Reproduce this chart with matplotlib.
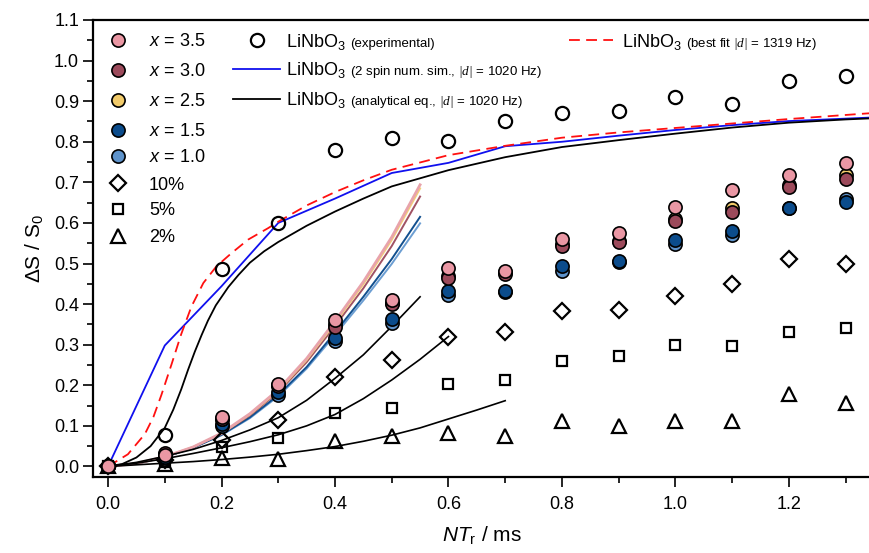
import matplotlib
matplotlib.use("Agg")
import matplotlib.pyplot as plt
from matplotlib.ticker import MultipleLocator

plt.rcParams['font.family'] = ['Liberation Sans', 'DejaVu Sans']
plt.rcParams['mathtext.fontset'] = 'custom'
plt.rcParams['mathtext.rm'] = 'Liberation Sans'
plt.rcParams['mathtext.it'] = 'Liberation Sans:italic'
plt.rcParams['mathtext.cal'] = 'Liberation Serif:italic'

# ---------------- data ----------------
NT = [0.0, 0.1, 0.2, 0.3, 0.4, 0.5, 0.6, 0.7, 0.8, 0.9, 1.0, 1.1, 1.2, 1.3]
lin_exp = [0, 0.077, 0.487, 0.599, 0.779, 0.810, 0.803, 0.850, 0.872, 0.876, 0.911, 0.893, 0.950, 0.962]
x35 = [0, 0.028, 0.122, 0.204, 0.360, 0.409, 0.490, 0.482, 0.561, 0.575, 0.640, 0.680, 0.718, 0.747]
x30 = [0, 0.032, 0.116, 0.198, 0.344, 0.400, 0.465, 0.475, 0.542, 0.552, 0.604, 0.627, 0.689, 0.709]
x25 = [0, 0.030, 0.118, 0.200, 0.350, 0.403, 0.470, 0.478, 0.548, 0.556, 0.610, 0.638, 0.694, 0.718]
x15 = [0, 0.024, 0.105, 0.183, 0.317, 0.364, 0.432, 0.432, 0.494, 0.506, 0.557, 0.580, 0.638, 0.652]
x10 = [0, 0.020, 0.100, 0.176, 0.309, 0.354, 0.422, 0.430, 0.482, 0.504, 0.549, 0.571, 0.636, 0.660]
p10 = [0, 0.015, 0.066, 0.115, 0.220, 0.263, 0.319, 0.331, 0.382, 0.386, 0.419, 0.449, 0.510, 0.500]
p5 = [0, 0.010, 0.048, 0.070, 0.131, 0.145, 0.204, 0.212, 0.261, 0.271, 0.299, 0.298, 0.332, 0.342]
p2 = [0, 0.006, 0.020, 0.019, 0.062, 0.075, 0.083, 0.075, 0.111, 0.099, 0.113, 0.111, 0.179, 0.156]

# simulated / fitted curves
sim_x = [0, 0.1, 0.2, 0.3, 0.4, 0.5, 0.6, 0.7, 0.8, 0.9, 1.0, 1.1, 1.2, 1.3, 1.4]
sim_y = [0, 0.298, 0.444, 0.600, 0.660, 0.723, 0.748, 0.789, 0.800, 0.815, 0.829, 0.841, 0.851, 0.857, 0.863]

ana_x = [0, 0.025, 0.05, 0.075, 0.1, 0.115, 0.129, 0.141, 0.153, 0.165, 0.176, 0.19, 0.212, 0.23, 0.25, 0.275,
         0.3, 0.35, 0.4, 0.45, 0.5, 0.6, 0.7, 0.8, 0.9, 1.0, 1.1, 1.2, 1.3, 1.4]
ana_y = [0, 0.006, 0.022, 0.050, 0.095, 0.140, 0.190, 0.238, 0.283, 0.324, 0.359, 0.397, 0.442, 0.472, 0.502, 0.530,
         0.553, 0.593, 0.628, 0.660, 0.690, 0.730, 0.762, 0.787, 0.804, 0.820, 0.835, 0.847, 0.855, 0.861]

fit_x = [0, 0.035, 0.065, 0.08, 0.094, 0.112, 0.129, 0.147, 0.168, 0.191, 0.218, 0.247, 0.282, 0.3,
         0.35, 0.4, 0.45, 0.5, 0.6, 0.7, 0.8, 0.9, 1.0, 1.1, 1.2, 1.3, 1.4]
fit_y = [0, 0.030, 0.080, 0.122, 0.176, 0.252, 0.326, 0.394, 0.452, 0.493, 0.526, 0.559, 0.587, 0.603,
         0.643, 0.676, 0.705, 0.731, 0.767, 0.790, 0.810, 0.823, 0.834, 0.845, 0.856, 0.866, 0.876]

fx = [0, 0.05, 0.1, 0.15, 0.2, 0.25, 0.3, 0.35, 0.4, 0.45, 0.5, 0.55]
f35 = [0, 0.007, 0.024, 0.048, 0.082, 0.130, 0.189, 0.266, 0.358, 0.455, 0.565, 0.694]
f25 = [0, 0.007, 0.024, 0.048, 0.081, 0.128, 0.186, 0.262, 0.353, 0.449, 0.558, 0.685]
f30 = [0, 0.007, 0.023, 0.047, 0.080, 0.126, 0.183, 0.257, 0.346, 0.439, 0.543, 0.665]
f15 = [0, 0.007, 0.023, 0.046, 0.078, 0.121, 0.176, 0.245, 0.330, 0.418, 0.511, 0.615]
f10 = [0, 0.007, 0.023, 0.046, 0.077, 0.119, 0.173, 0.241, 0.324, 0.409, 0.499, 0.599]
f_p10 = [0, 0.010, 0.025, 0.042, 0.064, 0.090, 0.120, 0.163, 0.217, 0.275, 0.345, 0.418]
fx5 = [0, 0.05, 0.1, 0.15, 0.2, 0.25, 0.3, 0.35, 0.4, 0.45, 0.5, 0.55, 0.6]
f_p5 = [0, 0.008, 0.019, 0.032, 0.046, 0.061, 0.078, 0.100, 0.128, 0.167, 0.213, 0.264, 0.320]
fx2 = [0, 0.05, 0.1, 0.15, 0.2, 0.25, 0.3, 0.35, 0.4, 0.45, 0.5, 0.55, 0.6, 0.65, 0.7]
f_p2 = [0, 0.004, 0.008, 0.012, 0.017, 0.023, 0.030, 0.039, 0.049, 0.062, 0.077, 0.095, 0.117, 0.139, 0.162]

c35, c30, c25, c15, c10 = '#EA97A4', '#9C4A5B', '#F2CB6A', '#0B4C8C', '#5E93CB'
l35, l30, l25, l15, l10 = '#E8A3AB', '#A05263', '#F3CF78', '#12508F', '#6C9ED2'

W, H = 870, 553
fig = plt.figure(figsize=(W / 100, H / 100), dpi=100)
ax = fig.add_axes([93 / W, 1 - 477 / H, (W - 93) / W, (477 - 20) / H])

# curves
ax.plot(sim_x, sim_y, color='#1010EE', lw=1.3, zorder=3)
ax.plot(ana_x, ana_y, color='black', lw=1.3, zorder=3)
ax.plot(fit_x, fit_y, color='#FF1010', lw=1.3, ls=(0, (6, 3.5)), zorder=3)
for yy, cc, lw in [(f10, l10, 1.4), (f15, l15, 1.4), (f30, l30, 1.4), (f25, l25, 1.4), (f35, l35, 2.0)]:
    ax.plot(fx, yy, color=cc, lw=lw, zorder=2)
ax.plot(fx, f_p10, color='black', lw=1.2, zorder=2)
ax.plot(fx5, f_p5, color='black', lw=1.2, zorder=2)
ax.plot(fx2, f_p2, color='black', lw=1.2, zorder=2)

# markers
mk = dict(ls='none', mec='black', zorder=5)
ax.plot(NT, p2, marker='^', ms=10, mew=1.6, mfc='none', **mk)
ax.plot(NT, p5, marker='s', ms=7.5, mew=1.6, mfc='none', **mk)
ax.plot(NT, p10, marker='D', ms=8.5, mew=1.6, mfc='none', **mk)
ax.plot(NT, lin_exp, marker='o', ms=9.5, mew=1.6, mfc='none', **mk)
for yy, cc in [(x10, c10), (x15, c15), (x25, c25), (x30, c30), (x35, c35)]:
    ax.plot(NT, yy, marker='o', ms=9.5, mew=1.2, mfc=cc, **mk)

ax.set_xlim(-0.0265, 1.343)
ax.set_ylim(-0.026, 1.1)
ax.xaxis.set_major_locator(MultipleLocator(0.2))
ax.xaxis.set_minor_locator(MultipleLocator(0.1))
ax.yaxis.set_major_locator(MultipleLocator(0.1))
ax.yaxis.set_minor_locator(MultipleLocator(0.05))
ax.xaxis.set_major_formatter(matplotlib.ticker.FormatStrFormatter('%.1f'))
ax.yaxis.set_major_formatter(matplotlib.ticker.FormatStrFormatter('%.1f'))
ax.tick_params(which='both', direction='out', width=1.2, labelsize=13, top=False, right=False)
ax.tick_params(which='major', length=7, pad=3)
ax.tick_params(axis='x', which='major', pad=7)
ax.tick_params(which='minor', length=4)
for s in ['left', 'bottom', 'top']:
    ax.spines[s].set_linewidth(1.6)
ax.spines['right'].set_visible(False)

ax.set_ylabel(r'$\Delta$S / S$_0$', fontsize=15, labelpad=6)
ax.set_xlabel(r'$NT_\mathrm{r}$ / ms', fontsize=15, labelpad=8)

# ---------------- manual legend ----------------
def fx_(px):
    return px / W

def fy_(py):
    return 1 - py / H

renderer = fig.canvas.get_renderer()

def ltext(xpx, ypx, big, small=None):
    t = fig.text(fx_(xpx), fy_(ypx + 6.5), big, fontsize=13, va='baseline', ha='left')
    if small:
        bb = t.get_window_extent(renderer)
        fig.text(bb.x1 / W + 4 / W, fy_(ypx + 6.5), small, fontsize=9.5, va='baseline', ha='left')

rows1 = [
    ('o', c35, r'$x$ = 3.5', 40),
    ('o', c30, r'$x$ = 3.0', 70),
    ('o', c25, r'$x$ = 2.5', 100),
    ('o', c15, r'$x$ = 1.5', 130),
    ('o', c10, r'$x$ = 1.0', 156),
    ('D', 'none', '10%', 183),
    ('s', 'none', '5%', 209),
    ('^', 'none', '2%', 236),
]
sizes = {'o': 9.5, 'D': 8.5, 's': 7.5, '^': 10}
for m, c, lab, y in rows1:
    fig.lines.append(matplotlib.lines.Line2D([fx_(118)], [fy_(y)], marker=m, ms=sizes[m], mfc=c, mec='black',
                                             mew=1.2 if c != 'none' else 1.6, transform=fig.transFigure))
    ltext(149, y, lab)

fig.lines.append(matplotlib.lines.Line2D([fx_(257)], [fy_(40)], marker='o', ms=9.5, mfc='none', mec='black',
                                         mew=1.6, transform=fig.transFigure))
ltext(286, 40, r'LiNbO$_3$', '(experimental)')
fig.lines.append(matplotlib.lines.Line2D([fx_(233), fx_(280)], [fy_(69), fy_(69)], color='#1010EE', lw=1.3,
                                         transform=fig.transFigure))
ltext(286, 69, r'LiNbO$_3$', r'(2 spin num. sim., $\mathcal{|d|}$ = 1020 Hz)')
fig.lines.append(matplotlib.lines.Line2D([fx_(233), fx_(280)], [fy_(99), fy_(99)], color='black', lw=1.3,
                                         transform=fig.transFigure))
ltext(286, 99, r'LiNbO$_3$', r'(analytical eq., $\mathcal{|d|}$ = 1020 Hz)')
fig.lines.append(matplotlib.lines.Line2D([fx_(569), fx_(613)], [fy_(40), fy_(40)], color='#FF1010', lw=1.3,
                                         ls=(0, (6, 3.5)), transform=fig.transFigure))
ltext(622, 40, r'LiNbO$_3$', r'(best fit $\mathcal{|d|}$ = 1319 Hz)')

fig.savefig('out.png', dpi=100)
